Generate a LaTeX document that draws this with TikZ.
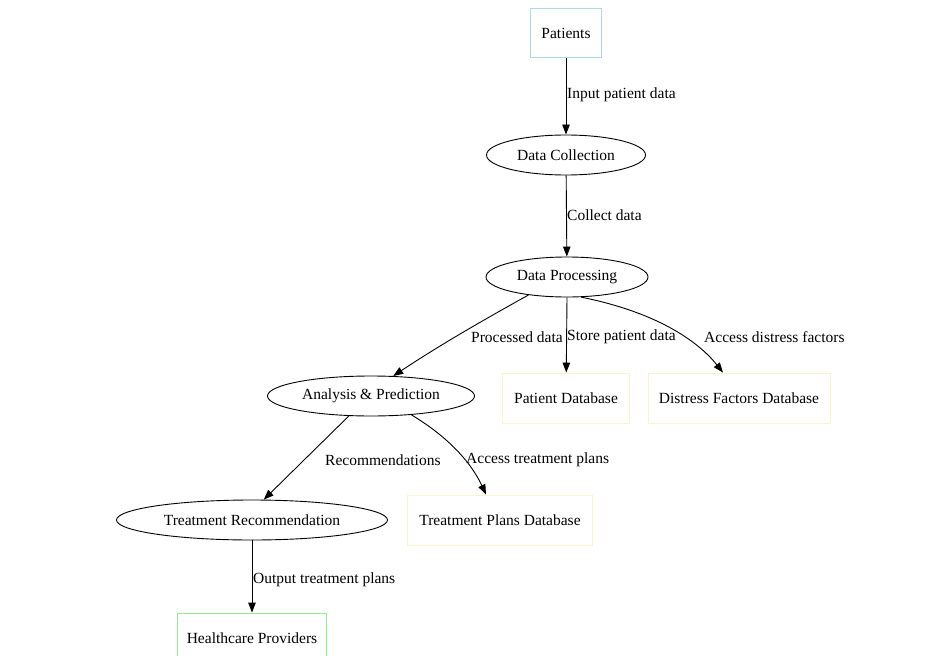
\documentclass[tikz,border=0pt]{standalone}
\usepackage{fontspec}
\setmainfont{Liberation Serif}
\usetikzlibrary{shapes.geometric,arrows.meta}
\definecolor{pbord}{HTML}{ADD8E6}
\definecolor{hbord}{HTML}{90EE90}
\definecolor{dbord}{RGB}{245,245,210}
\tikzset{
  every node/.style={font=\fontsize{15.5}{18}\selectfont, inner sep=0pt},
  ell/.style={draw, ellipse, line width=0.9pt},
  boxnode/.style={draw, rectangle, line width=0.9pt},
  conn/.style={draw, line width=0.9pt, -{Triangle[length=10pt,width=7.5pt]}},
  lbl/.style={anchor=west},
}
\begin{document}
\begin{tikzpicture}[x=1pt,y=-1pt]
\useasboundingbox (0,0) rectangle (925,655);
\node[boxnode, draw=pbord, minimum width=71pt, minimum height=49pt] (pat) at (566,33) {Patients};
\node[ell, minimum width=159pt, minimum height=40pt] (dc) at (566,155) {Data Collection};
\node[ell, minimum width=162pt, minimum height=40pt] (dp) at (567,277) {Data Processing};
\node[ell, minimum width=207pt, minimum height=40pt] (ap) at (371,396) {Analysis \& Prediction};
\node[boxnode, draw=dbord, minimum width=127pt, minimum height=50pt] (pdb) at (566,398) {Patient Database};
\node[boxnode, draw=dbord, minimum width=182pt, minimum height=50pt] (ddb) at (739,398) {Distress Factors Database};
\node[ell, minimum width=271pt, minimum height=40pt] (tr) at (252,520) {Treatment Recommendation};
\node[boxnode, draw=dbord, minimum width=185pt, minimum height=50pt] (tdb) at (500,520) {Treatment Plans Database};
\node[boxnode, draw=hbord, minimum width=149pt, minimum height=50pt] (hp) at (252,638) {Healthcare Providers};

\draw[conn] (pat) -- (dc);
\draw[conn] (dc) -- (dp);
\draw[conn] (dp.south) -- (pdb);
\draw[conn] (dp.205) .. controls (480,322) and (440,345) .. (ap.42);
\draw[conn] (dp.305) .. controls (670,315) and (705,350) .. (ddb.north west -| 723,373);
\draw[conn] (ap.222) -- (tr.60);
\draw[conn] (ap.335) .. controls (445,435) and (470,460) .. (tdb.north -| 486,495);
\draw[conn] (tr) -- (hp);

\node[lbl] (l1) at (567,95) {Input patient data};
\node[lbl] (l2) at (567,215) {Collect data};
\node[anchor=east] (l3) at (563,337) {Processed data};
\node[lbl] (l4) at (567,337) {Store patient data};
\node[lbl] (l5) at (704,337) {Access distress factors};
\node[lbl] (l6) at (325,460) {Recommendations};
\node[lbl] (l7) at (466,460) {Access treatment plans};
\node[lbl] (l8) at (253,580) {Output treatment plans};
\end{tikzpicture}
\end{document}
